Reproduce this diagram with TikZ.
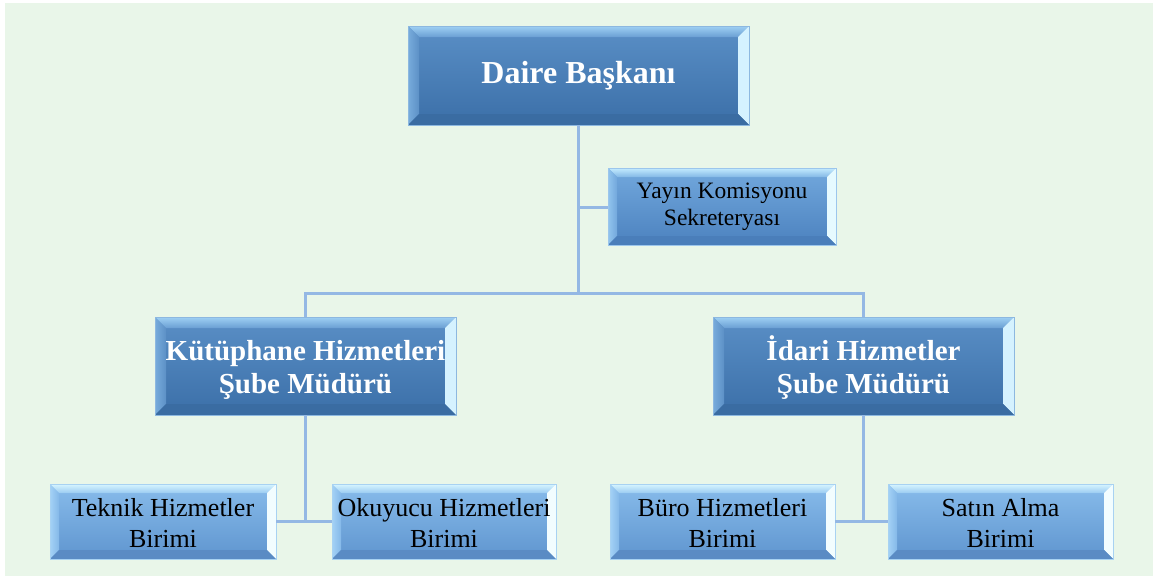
\documentclass[tikz,border=0pt]{standalone}
\usepackage{fontspec}
\setmainfont{Liberation Serif}
\definecolor{bg}{HTML}{E9F6E9}
\definecolor{conn}{HTML}{94B8E4}
\definecolor{dTop}{HTML}{5A8FC6}
\definecolor{dBot}{HTML}{3B6FA8}
\definecolor{mTop}{HTML}{72A8DD}
\definecolor{mBot}{HTML}{4C82BF}
\definecolor{lTop}{HTML}{88BCEB}
\definecolor{lBot}{HTML}{5F95CF}
% outlines
\definecolor{dOut}{HTML}{8DB8E0}
\definecolor{mOut}{HTML}{9CC6EC}
\definecolor{lOut}{HTML}{A8D2F2}
% dark bevels
\definecolor{dA}{HTML}{9FD0F4}
\definecolor{dB}{HTML}{6A9FD3}
\definecolor{dC}{HTML}{78ACDC}
\definecolor{dD}{HTML}{5C90C6}
\definecolor{dE}{HTML}{D5F2FF}
\definecolor{dF}{HTML}{3A6CA2}
% mid bevels
\definecolor{mA}{HTML}{C4ECFF}
\definecolor{mB}{HTML}{84B8E6}
\definecolor{mC}{HTML}{92C4EE}
\definecolor{mD}{HTML}{72A8DC}
\definecolor{mE}{HTML}{E6FAFF}
\definecolor{mF}{HTML}{4A7EBA}
% light bevels
\definecolor{lA}{HTML}{D8F6FF}
\definecolor{lB}{HTML}{9ACBF2}
\definecolor{lC}{HTML}{A4D2F6}
\definecolor{lD}{HTML}{84B8E8}
\definecolor{lE}{HTML}{F2FDFF}
\definecolor{lF}{HTML}{5A8BC4}
\newcommand\bevelpic[7]{%
  \path (path picture bounding box.north west) coordinate (bNW)
        (path picture bounding box.north east) coordinate (bNE)
        (path picture bounding box.south west) coordinate (bSW)
        (path picture bounding box.south east) coordinate (bSE);
  \shade[top color=#1,bottom color=#2] (bNW) -- (bNE) -- ([shift={(-#7,-#7)}]bNE) -- ([shift={(#7,-#7)}]bNW) -- cycle;
  \shade[left color=#3,right color=#4] (bNW) -- ([shift={(#7,-#7)}]bNW) -- ([shift={(#7,#7)}]bSW) -- (bSW) -- cycle;
  \fill[#5] (bNE) -- (bSE) -- ([shift={(-#7,#7)}]bSE) -- ([shift={(-#7,-#7)}]bNE) -- cycle;
  \fill[#6] (bSW) -- ([shift={(#7,#7)}]bSW) -- ([shift={(-#7,#7)}]bSE) -- (bSE) -- cycle;
}
\tikzset{
  basebox/.style={rectangle, inner sep=0pt, outer sep=0pt, align=center, draw=#1, line width=0.6pt},
  darkbox/.style={basebox=dOut, top color=dTop, bottom color=dBot, text=white,
    path picture={\bevelpic{dA}{dB}{dC}{dD}{dE}{dF}{11pt}}},
  midbox/.style={basebox=mOut, top color=mTop, bottom color=mBot, text=black,
    path picture={\bevelpic{mA}{mB}{mC}{mD}{mE}{mF}{9pt}}},
  lightbox/.style={basebox=lOut, top color=lTop, bottom color=lBot, text=black,
    path picture={\bevelpic{lA}{lB}{lC}{lD}{lE}{lF}{9pt}}},
  conline/.style={draw=conn, line width=3pt},
  bigfont/.style={font=\fontsize{32}{36}\selectfont\bfseries},
  subfont/.style={font=\fontsize{29}{33}\selectfont\bfseries, text height=60pt},
  yfont/.style={font=\fontsize{23.5}{27}\selectfont},
  smallfont/.style={font=\fontsize{26}{31}\selectfont, text height=52pt}
}
\begin{document}
\begin{tikzpicture}[x=1pt,y=-1pt]
\useasboundingbox (0,0) rectangle (1153,576);
\fill[white] (0,0) rectangle (1153,576);
\fill[bg] (5,3) rectangle (1153,576);
% nodes
\node[darkbox, bigfont, minimum width=341pt, minimum height=99pt] (top) at (578.5,75.5) {Daire Başkanı};
\node[midbox, yfont, minimum width=228pt, minimum height=77pt] (yay) at (722,206.5) {Yayın Komisyonu\\Sekreteryası};
\node[darkbox, subfont, minimum width=301pt, minimum height=98pt] (kut) at (305.5,366) {Kütüphane Hizmetleri\\Şube Müdürü};
\node[darkbox, subfont, minimum width=301pt, minimum height=98pt] (ida) at (863.5,366) {İdari Hizmetler\\Şube Müdürü};
\node[lightbox, smallfont, minimum width=226pt, minimum height=75pt] (tek) at (163,521.5) {Teknik Hizmetler\\Birimi};
\node[lightbox, smallfont, minimum width=224pt, minimum height=75pt] (oku) at (444,521.5) {Okuyucu Hizmetleri\\Birimi};
\node[lightbox, smallfont, minimum width=225pt, minimum height=75pt] (bur) at (722.5,521.5) {Büro Hizmetleri\\Birimi};
\node[lightbox, smallfont, minimum width=225pt, minimum height=75pt] (sat) at (1000.5,521.5) {Satın Alma\\Birimi};
% connectors
\coordinate (jn) at (578.5,293);
\coordinate (jy) at (578.5,207);
\draw[conline] (top.south) -- (jn);
\draw[conline] (jy) -- (yay.west |- jy);
\draw[conline] (kut.north) -- (kut.north |- jn) -- (ida.north |- jn) -- (ida.north);
\coordinate (kl) at (kut.south |- tek.east);
\coordinate (il) at (ida.south |- bur.east);
\draw[conline] (kut.south) -- (kl);
\draw[conline] (tek.east) -- (oku.west);
\draw[conline] (ida.south) -- (il);
\draw[conline] (bur.east) -- (sat.west);
\end{tikzpicture}
\end{document}
